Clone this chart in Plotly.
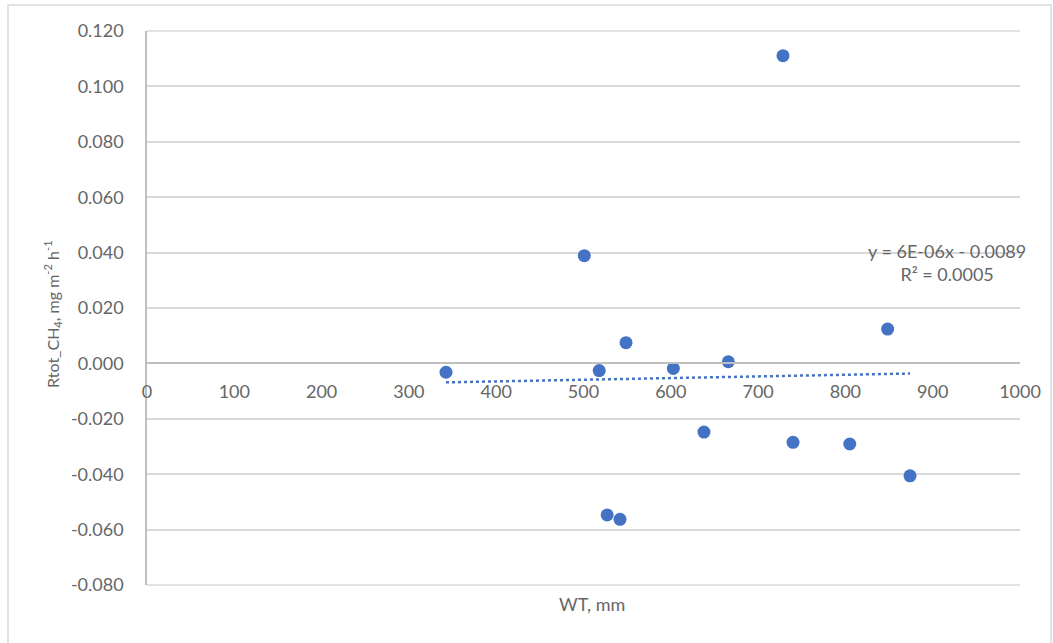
import numpy as np
import plotly.graph_objects as go

# Data
wt_mm = [342.5, 500.9, 518.0, 548.7, 527.1, 541.8, 602.9, 665.9, 638.0, 728.5, 740.0, 805.0, 848.4, 874.0]
rtot_ch4 = [-0.0032, 0.0389, -0.0026, 0.0075, -0.0547, -0.0563, -0.0018, 0.0006, -0.0248, 0.1111,
            -0.0285, -0.0291, 0.0124, -0.0406]

# Linear trendline (from the equation on the chart)
trend_slope = 6e-06
trend_intercept = -0.0089
trend_label = "y = 6E-06x - 0.0089<br>R² = 0.0005"

y_tickvals = [-0.08, -0.06, -0.04, -0.02, 0.0, 0.02, 0.04, 0.06, 0.08, 0.10, 0.12]
y_ticktext = ["-0.080", "-0.060", "-0.040", "-0.020", "0.000", "0.020", "0.040", "0.060", "0.080", "0.100", "0.120"]
x_tickvals = [0, 100, 200, 300, 400, 500, 600, 700, 800, 900, 1000]
x_ticktext = ["0", "100", "200", "300", "400", "500", "600", "700", "800", "900", "1000"]

BLUE = "#4472C4"
GRID = "#D9D9D9"
AXIS = "#BFBFBF"
TXT = "#666666"
FONT = "Lato"

tx = np.array([min(wt_mm), max(wt_mm)])
ty = trend_slope * tx + trend_intercept

fig = go.Figure()
fig.add_trace(go.Scatter(x=tx, y=ty, mode="lines",
                         line=dict(color=BLUE, width=2.5, dash="dot"),
                         hoverinfo="skip", showlegend=False))
fig.add_trace(go.Scatter(x=wt_mm, y=rtot_ch4, mode="markers",
                         marker=dict(color=BLUE, size=13, line=dict(width=0)),
                         showlegend=False))

L, R, T, B = 147, 33, 31, 58
W, H = 1053, 643
pw, ph = W - L - R, H - T - B

def px_x(p):
    return (p - L) / pw

def px_y(p):
    return (H - B - p) / ph

y_lo, y_hi = min(y_tickvals), max(y_tickvals)

shapes = [
    dict(type="rect", xref="paper", yref="paper",
         x0=px_x(8), x1=px_x(1051), y0=px_y(660), y1=px_y(5),
         line=dict(color=GRID, width=1.5), fillcolor="rgba(0,0,0,0)", layer="below"),
]
# gridlines at the bottom and top edges of the plot area (paper refs are not clipped)
for yp in (0, 1):
    shapes.append(dict(type="line", xref="paper", yref="paper", x0=0, x1=1, y0=yp, y1=yp,
                       line=dict(color=GRID, width=1.5), layer="above"))

fig.update_layout(
    width=W, height=H,
    margin=dict(l=L, r=R, t=T, b=B, pad=0),
    paper_bgcolor="white", plot_bgcolor="white",
    font=dict(family=FONT, color=TXT, size=18),
    xaxis=dict(range=[0, 1000], tickvals=x_tickvals, ticktext=x_ticktext,
               showgrid=False, zeroline=False, showline=True,
               linecolor=AXIS, linewidth=1.5,
               anchor="free", position=0.4, ticks="",
               ticklabelstandoff=12,
               tickfont=dict(family=FONT, size=18, color=TXT)),
    yaxis=dict(range=[y_lo, y_hi], tickvals=y_tickvals, ticktext=y_ticktext,
               showgrid=True, gridcolor=GRID, gridwidth=1.5, zeroline=False,
               showline=True, linecolor=AXIS, linewidth=1.5, ticks="",
               ticklabelstandoff=18,
               tickfont=dict(family=FONT, size=18, color=TXT)),
    annotations=[
        dict(text="WT, mm", xref="paper", yref="paper", x=px_x(592), y=px_y(604),
             xanchor="center", yanchor="middle", showarrow=False,
             font=dict(family=FONT, size=18, color=TXT)),
        dict(text="Rtot_CH<sub>4</sub>, mg m<sup>-2</sup> h<sup>-1</sup>", xref="paper", yref="paper",
             x=px_x(53), y=px_y(314), textangle=-90,
             xanchor="center", yanchor="middle", showarrow=False,
             font=dict(family=FONT, size=16, color=TXT)),
        dict(text=trend_label, xref="paper", yref="paper",
             x=px_x(947), y=px_y(262), xanchor="center", yanchor="middle",
             align="center", showarrow=False,
             font=dict(family=FONT, size=18, color=TXT)),
    ],
    shapes=shapes,
)

fig.write_html("out.html")
